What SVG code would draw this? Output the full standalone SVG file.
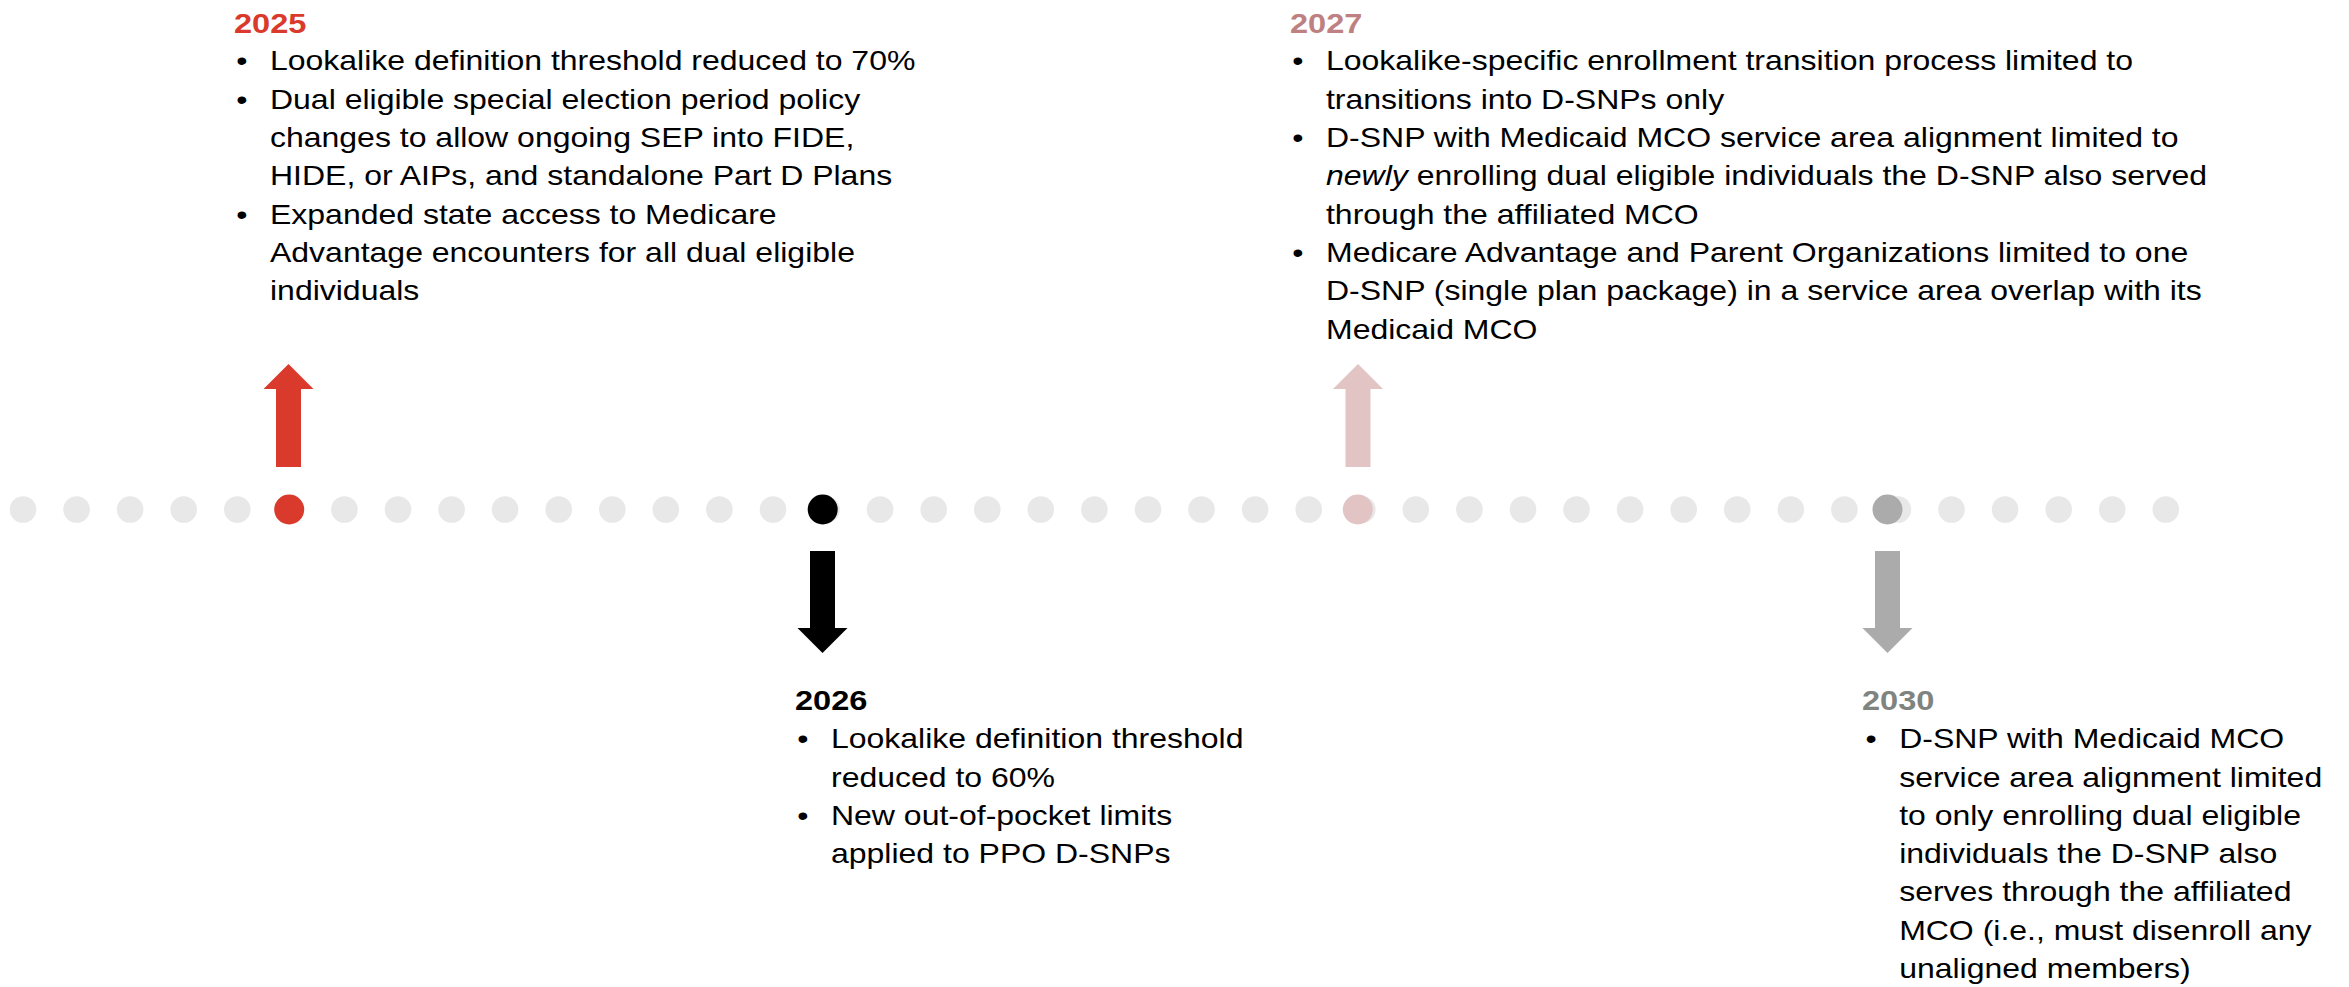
<svg xmlns="http://www.w3.org/2000/svg" width="2349" height="987" viewBox="0 0 2349 987">
<style>
  text { font-family: "Liberation Sans", Arial, sans-serif; }
  .yr { font-size: 28.5px; font-weight: bold; }
  .tx { font-size: 28px; fill: #000; }
  .dot { fill: #E8E8E8; }
</style>
<rect width="2349" height="987" fill="#FFFFFF"/>
<g id="timeline">
  <circle class="dot" cx="23" cy="509.5" r="13.3"/>
  <circle class="dot" cx="76.6" cy="509.5" r="13.3"/>
  <circle class="dot" cx="130.1" cy="509.5" r="13.3"/>
  <circle class="dot" cx="183.7" cy="509.5" r="13.3"/>
  <circle class="dot" cx="237.3" cy="509.5" r="13.3"/>
  <circle class="dot" cx="290.9" cy="509.5" r="13.3"/>
  <circle class="dot" cx="344.4" cy="509.5" r="13.3"/>
  <circle class="dot" cx="398.0" cy="509.5" r="13.3"/>
  <circle class="dot" cx="451.6" cy="509.5" r="13.3"/>
  <circle class="dot" cx="505.1" cy="509.5" r="13.3"/>
  <circle class="dot" cx="558.7" cy="509.5" r="13.3"/>
  <circle class="dot" cx="612.3" cy="509.5" r="13.3"/>
  <circle class="dot" cx="665.8" cy="509.5" r="13.3"/>
  <circle class="dot" cx="719.4" cy="509.5" r="13.3"/>
  <circle class="dot" cx="773.0" cy="509.5" r="13.3"/>
  <circle class="dot" cx="826.6" cy="509.5" r="13.3"/>
  <circle class="dot" cx="880.1" cy="509.5" r="13.3"/>
  <circle class="dot" cx="933.7" cy="509.5" r="13.3"/>
  <circle class="dot" cx="987.3" cy="509.5" r="13.3"/>
  <circle class="dot" cx="1040.8" cy="509.5" r="13.3"/>
  <circle class="dot" cx="1094.4" cy="509.5" r="13.3"/>
  <circle class="dot" cx="1148.0" cy="509.5" r="13.3"/>
  <circle class="dot" cx="1201.5" cy="509.5" r="13.3"/>
  <circle class="dot" cx="1255.1" cy="509.5" r="13.3"/>
  <circle class="dot" cx="1308.7" cy="509.5" r="13.3"/>
  <circle class="dot" cx="1362.3" cy="509.5" r="13.3"/>
  <circle class="dot" cx="1415.8" cy="509.5" r="13.3"/>
  <circle class="dot" cx="1469.4" cy="509.5" r="13.3"/>
  <circle class="dot" cx="1523.0" cy="509.5" r="13.3"/>
  <circle class="dot" cx="1576.5" cy="509.5" r="13.3"/>
  <circle class="dot" cx="1630.1" cy="509.5" r="13.3"/>
  <circle class="dot" cx="1683.7" cy="509.5" r="13.3"/>
  <circle class="dot" cx="1737.2" cy="509.5" r="13.3"/>
  <circle class="dot" cx="1790.8" cy="509.5" r="13.3"/>
  <circle class="dot" cx="1844.4" cy="509.5" r="13.3"/>
  <circle class="dot" cx="1897.9" cy="509.5" r="13.3"/>
  <circle class="dot" cx="1951.5" cy="509.5" r="13.3"/>
  <circle class="dot" cx="2005.1" cy="509.5" r="13.3"/>
  <circle class="dot" cx="2058.7" cy="509.5" r="13.3"/>
  <circle class="dot" cx="2112.2" cy="509.5" r="13.3"/>
  <circle class="dot" cx="2165.8" cy="509.5" r="13.3"/>
</g>
<g id="connectors">
  <polygon points="288.5,364 313.5,389 301,389 301,467 276,467 276,389 263.5,389" fill="#D93A2B"/>
  <polygon points="822.5,653 797.5,628 810,628 810,551 835,551 835,628 847.5,628" fill="#000000"/>
  <polygon points="1358,364 1383,389 1370.5,389 1370.5,467 1345.5,467 1345.5,389 1333,389" fill="#E2C4C4"/>
  <polygon points="1887.5,653 1862.5,628 1875,628 1875,551 1900,551 1900,628 1912.5,628" fill="#ABABAB"/>
</g>
<g id="node-2025">
  <circle cx="289.2" cy="509.5" r="15" fill="#D93A2B"/>
  <g transform="translate(234,0) scale(1.143,1)">
    <text class="yr" x="0" y="33" fill="#D93A2B">2025</text>
    <text class="tx" x="2" y="70.5">•</text>
    <text class="tx" x="31.5" y="70.5">Lookalike definition threshold reduced to 70%</text>
    <text class="tx" x="2" y="108.8">•</text>
    <text class="tx" x="31.5" y="108.8">Dual eligible special election period policy</text>
    <text class="tx" x="31.5" y="147.1">changes to allow ongoing SEP into FIDE,</text>
    <text class="tx" x="31.5" y="185.4">HIDE, or AIPs, and standalone Part D Plans</text>
    <text class="tx" x="2" y="223.7">•</text>
    <text class="tx" x="31.5" y="223.7">Expanded state access to Medicare</text>
    <text class="tx" x="31.5" y="262">Advantage encounters for all dual eligible</text>
    <text class="tx" x="31.5" y="300.3">individuals</text>
  </g>
</g>
<g id="node-2026">
  <circle cx="822.7" cy="509.5" r="15" fill="#000000"/>
  <g transform="translate(795,0) scale(1.143,1)">
    <text class="yr" x="0" y="710" fill="#000000">2026</text>
    <text class="tx" x="2" y="748.3">•</text>
    <text class="tx" x="31.5" y="748.3">Lookalike definition threshold</text>
    <text class="tx" x="31.5" y="786.6">reduced to 60%</text>
    <text class="tx" x="2" y="824.9">•</text>
    <text class="tx" x="31.5" y="824.9">New out-of-pocket limits</text>
    <text class="tx" x="31.5" y="863.2">applied to PPO D-SNPs</text>
  </g>
</g>
<g id="node-2027">
  <circle cx="1357.8" cy="509.5" r="15" fill="#E2C4C4"/>
  <g transform="translate(1290,0) scale(1.143,1)">
    <text class="yr" x="0" y="33" fill="#BE8080">2027</text>
    <text class="tx" x="2" y="70.5">•</text>
    <text class="tx" x="31.5" y="70.5">Lookalike-specific enrollment transition process limited to</text>
    <text class="tx" x="31.5" y="108.8">transitions into D-SNPs only</text>
    <text class="tx" x="2" y="147.1">•</text>
    <text class="tx" x="31.5" y="147.1">D-SNP with Medicaid MCO service area alignment limited to</text>
    <text class="tx" x="31.5" y="185.4"><tspan font-style="italic">newly</tspan> enrolling dual eligible individuals the D-SNP also served</text>
    <text class="tx" x="31.5" y="223.7">through the affiliated MCO</text>
    <text class="tx" x="2" y="262">•</text>
    <text class="tx" x="31.5" y="262">Medicare Advantage and Parent Organizations limited to one</text>
    <text class="tx" x="31.5" y="300.3">D-SNP (single plan package) in a service area overlap with its</text>
    <text class="tx" x="31.5" y="338.6">Medicaid MCO</text>
  </g>
</g>
<g id="node-2030">
  <circle cx="1887.5" cy="509.5" r="15" fill="#ABABAB"/>
  <g transform="translate(1862,0) scale(1.143,1)">
    <text class="yr" x="0" y="710" fill="#7F847F">2030</text>
    <text class="tx" x="3" y="748.3">•</text>
    <text class="tx" x="32.5" y="748.3">D-SNP with Medicaid MCO</text>
    <text class="tx" x="32.5" y="786.6">service area alignment limited</text>
    <text class="tx" x="32.5" y="824.9">to only enrolling dual eligible</text>
    <text class="tx" x="32.5" y="863.2">individuals the D-SNP also</text>
    <text class="tx" x="32.5" y="901.5">serves through the affiliated</text>
    <text class="tx" x="32.5" y="939.8">MCO (i.e., must disenroll any</text>
    <text class="tx" x="32.5" y="978.1">unaligned members)</text>
  </g>
</g>
</svg>
